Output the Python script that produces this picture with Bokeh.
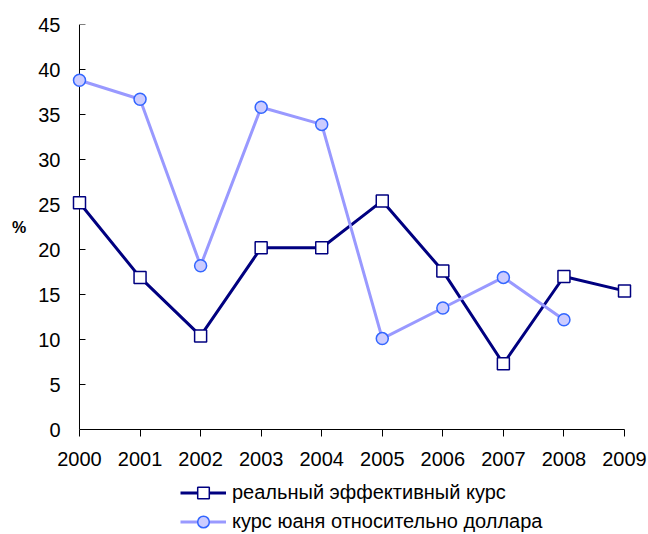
from bokeh.plotting import figure
from bokeh.models import Range1d, Legend, LegendItem, FixedTicker
from bokeh.layouts import column
from bokeh.embed import file_html
from bokeh.resources import INLINE

years = [2000, 2001, 2002, 2003, 2004, 2005, 2006, 2007, 2008, 2009]
real_rate = [25.2, 16.9, 10.4, 20.2, 20.2, 25.4, 17.6, 7.3, 17.0, 15.4]
yuan_years = [2000, 2001, 2002, 2003, 2004, 2005, 2006, 2007, 2008]
yuan_rate = [38.8, 36.7, 18.2, 35.8, 33.9, 10.1, 13.5, 16.9, 12.2]
y_ticks = [0, 5, 10, 15, 20, 25, 30, 35, 40, 45]
series_names = ["реальный эффективный курс", "курс юаня относительно доллара"]
y_unit = "%"

FONT = "Liberation Sans"
DARK = "#000080"
LIGHT = "#9999FF"
LIGHT_FILL = "#CCCCFF"
LIGHT_EDGE = "#3366FF"

p = figure(
    frame_width=564, frame_height=405,
    min_border_left=70, min_border_right=14, min_border_top=24, min_border_bottom=50,
    x_range=Range1d(1999.8514, 2009.1651), y_range=Range1d(y_ticks[0], y_ticks[-1]),
    output_backend="svg", toolbar_location=None,
)
p.outline_line_color = None
p.xgrid.grid_line_color = None
p.ygrid.grid_line_color = None
p.background_fill_color = "white"
p.border_fill_color = "white"

# x axis
xa = p.xaxis[0]
xa.ticker = FixedTicker(ticks=years)
xa.bounds = (years[0], years[-1])
xa.major_tick_in = 0
xa.major_tick_out = 7
xa.minor_tick_line_color = None
xa.axis_line_color = "black"
xa.major_tick_line_color = "black"
xa.major_label_text_font = FONT
xa.major_label_text_font_size = "20px"
xa.major_label_text_color = "black"
xa.major_label_standoff = 15
xa.major_label_overrides = {y: str(y) for y in years}

# y axis: labels from bokeh axis, line + inward ticks drawn at x = first year
ya = p.yaxis[0]
ya.ticker = FixedTicker(ticks=y_ticks)
ya.major_tick_in = 0
ya.major_tick_out = 0
ya.minor_tick_line_color = None
ya.axis_line_color = None
ya.major_tick_line_color = None
ya.major_label_text_font = FONT
ya.major_label_text_font_size = "20px"
ya.major_label_text_color = "black"
ya.major_label_standoff = 10
ya.axis_label = y_unit
ya.axis_label_orientation = "horizontal"
ya.axis_label_text_font = FONT
ya.axis_label_text_font_size = "16px"
ya.axis_label_text_font_style = "bold"
ya.axis_label_text_color = "black"
ya.axis_label_standoff = 9

p.segment(x0=years[0], y0=y_ticks[0], x1=years[0], y1=y_ticks[-1], line_color="black", line_width=1)
p.ray(x=[years[0]] * len(y_ticks), y=y_ticks, length=6, length_units="screen", angle=0,
      line_color="black", line_width=1)

# series
p.line(years, real_rate, line_color=DARK, line_width=3)
p.scatter(years, real_rate, marker="square", size=12, fill_color="white",
          line_color=DARK, line_width=1.5)
p.line(yuan_years, yuan_rate, line_color=LIGHT, line_width=3)
p.scatter(yuan_years, yuan_rate, marker="circle", size=12, fill_color=LIGHT_FILL,
          line_color=LIGHT_EDGE, line_width=1.5)

# legend strip below the chart
q = figure(
    frame_width=648, frame_height=55,
    min_border_left=0, min_border_right=0, min_border_top=0, min_border_bottom=0,
    x_range=Range1d(0, 1), y_range=Range1d(1000, 1001),
    x_axis_type=None, y_axis_type=None,
    output_backend="svg", toolbar_location=None,
)
q.outline_line_color = None
q.background_fill_color = "white"
q.border_fill_color = "white"
ql1 = q.line(years, real_rate, line_color=DARK, line_width=3)
qs1 = q.scatter(years, real_rate, marker="square", size=12, fill_color="white",
                line_color=DARK, line_width=1.5)
ql2 = q.line(yuan_years, yuan_rate, line_color=LIGHT, line_width=3)
qs2 = q.scatter(yuan_years, yuan_rate, marker="circle", size=12, fill_color=LIGHT_FILL,
                line_color=LIGHT_EDGE, line_width=1.5)

legend = Legend(
    items=[LegendItem(label=series_names[0], renderers=[ql1, qs1]),
           LegendItem(label=series_names[1], renderers=[ql2, qs2])],
    location=(180, -2),
    orientation="vertical",
    label_text_font=FONT, label_text_font_size="20px", label_text_color="black",
    glyph_width=46, glyph_height=29, label_height=29, spacing=0,
    label_standoff=6, padding=0, margin=0,
    border_line_color=None, background_fill_alpha=0,
)
q.add_layout(legend)

layout = column(p, q, spacing=0)
open("out.html", "w").write(file_html(layout, INLINE))
